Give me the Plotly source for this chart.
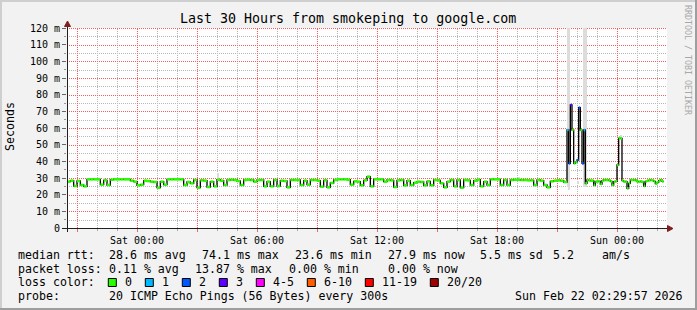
import plotly.graph_objects as go
import pandas as pd

W, H = 697, 310
FONT = "DejaVu Sans Mono"

# ---------------- data ----------------
start_a = "2026-02-20 20:30"          # 10-minute consolidated medians (ms)
median_a = [
    27.8, 28.4, 25.2, 28.2, 25.8, 25.0, 29.2, 29.2, 29.2, 29.2,
    26.0, 28.6, 25.8, 29.0, 29.2, 29.2, 29.2, 29.2, 29.2, 28.4,
    27.8, 25.6, 26.0, 28.4, 28.2, 27.8, 27.6, 24.2, 27.8, 26.0,
    29.2, 29.2, 29.2, 29.2, 29.2, 25.8,
    27.6, 26.8, 28.8, 24.2, 28.6, 28.4, 24.6, 27.8, 25.0, 29.0,
    28.4, 25.8, 28.8, 29.0, 28.8, 28.2, 25.8, 28.8, 29.0, 28.8,
    27.8, 28.8, 28.8, 25.0, 27.8, 25.0, 28.8, 25.2, 28.4, 28.2,
    24.4, 28.8, 28.8, 28.8, 25.8, 28.4,
    26.0, 28.8, 28.8, 28.4, 24.8, 28.6, 24.4, 27.0, 28.8, 29.2,
    29.2, 29.2, 29.0, 26.0, 28.0, 27.8, 25.6, 28.6, 30.8, 25.0,
    29.2, 29.2, 29.2, 27.8, 28.8, 28.6, 24.6, 28.6, 28.8, 25.6,
    28.4, 25.8, 27.2, 27.8, 27.6, 25.6,
    28.0, 25.6, 28.8, 28.6, 26.8, 24.4, 27.8, 28.8, 25.0, 28.8,
    24.2, 28.8, 28.6, 25.8, 28.4, 29.0, 25.0, 27.8, 25.8, 29.2,
    29.2, 29.2, 25.8, 28.8, 25.8, 28.8, 29.0, 29.0, 28.8, 28.8,
    28.6, 28.6, 25.8, 28.8, 28.4, 25.8,
    24.4, 28.0, 28.4, 28.6, 28.4, 27.6,
]
start_b = "2026-02-21 21:30"          # 5-minute medians (ms)
median_b = [
    58.8, 38.8, 73.8, 58.8, 38.8, 39.5, 40.8, 72.2, 58.8, 38.8, 58.8, 26.8,
    28.8, 28.6, 28.4, 28.4, 25.8, 27.8, 28.0, 28.0, 26.4, 28.4, 28.8, 28.8,
    28.8, 28.6, 28.0, 25.8, 27.8, 28.0,
    37.8, 53.8, 53.8,
    28.4, 27.8, 27.8, 23.8, 26.8, 28.8, 28.8, 28.8, 28.6, 27.8, 27.8, 28.0,
    27.6, 25.2, 28.0, 28.4, 28.6, 28.8, 28.6, 28.0, 26.6, 27.4, 28.4, 28.8,
    28.0,
]
loss_b = [1, 2, 3, 0, 0, 0, 2, 2, 0, 2, 1] + [0] * 47   # lost pings of 20

smoke_time = ["2026-02-20 22:20", "2026-02-21 04:00", "2026-02-21 19:05",
              "2026-02-21 21:30", "2026-02-21 21:35", "2026-02-21 22:00",
              "2026-02-21 22:20", "2026-02-21 22:25", "2026-02-22 00:10"]
smoke_low = [28.8, 28.8, 28.8, 24.8, 22.8, 26.5, 24.8, 24.8, 53.8]
smoke_high = [30.2, 32.8, 30.8, 120.0, 120.0, 28.0, 120.0, 120.0, 55.8]

x_range = ["2026-02-20 20:30", "2026-02-22 02:30"]
y_tickvals = [0, 10, 20, 30, 40, 50, 60, 70, 80, 90, 100, 110, 120]
y_ticktext = ["0", "10 m", "20 m", "30 m", "40 m", "50 m", "60 m", "70 m",
              "80 m", "90 m", "100 m", "110 m", "120 m"]
y_minorvals = [5, 15, 25, 35, 45, 55, 65, 75, 85, 95, 105, 115]
loss_labels = ["0", "1", "2", "3", "4-5", "6-10", "11-19", "20/20"]

title = "Last 30 Hours from smokeping to google.com"
legend_rows = [
    [("median rtt:", 16), ("28.6 ms avg", 107), ("74.1 ms max", 200),
     ("23.6 ms min", 293), ("27.9 ms now", 386), ("5.5 ms sd", 478),
     ("5.2", 551), ("am/s", 600)],
    [("packet loss:", 16), ("0.11 % avg", 107), ("13.87 % max", 193),
     ("0.00 % min", 286.5), ("0.00 % now", 386)],
    [("loss color:", 16)],
    [("probe:", 16), ("20 ICMP Echo Pings (56 Bytes) every 300s", 107),
     ("Sun Feb 22 02:29:57 2026", 513)],
]

# ---------------- styles ----------------
loss_colors = ["#26ff00", "#00b8ff", "#0059ff", "#5e00ff",
               "#ff00ff", "#ff5e00", "#ff0000", "#a10000"]

# plot-area pixel box
PL, PR, PT, PB = 67, 667, 28, 228


def loss_bin(n):
    if n <= 3:
        return n
    if n <= 5:
        return 4
    if n <= 10:
        return 5
    if n <= 19:
        return 6
    return 7


def px(x):
    return x / W


def py(y):
    return 1 - y / H


times_a = pd.date_range(start_a, periods=len(median_a), freq="10min")
times_b = pd.date_range(start_b, periods=len(median_b), freq="5min")
t_all = list(times_a) + list(times_b)
t_end = [t + pd.Timedelta("10min") for t in times_a] + [t + pd.Timedelta("5min") for t in times_b]
v_all = median_a + median_b
l_all = [0] * len(median_a) + loss_b

fig = go.Figure()

# smoke
fig.add_trace(go.Bar(
    x=pd.to_datetime(smoke_time),
    y=[h - l for h, l in zip(smoke_high, smoke_low)],
    base=smoke_low, offset=0, width=250000,
    marker=dict(color="#dcdcdc", line=dict(width=0)),
    hoverinfo="skip", showlegend=False,
))

# black median step line
fig.add_trace(go.Scatter(
    x=t_all + [t_end[-1]], y=v_all + [v_all[-1]],
    mode="lines", line=dict(color="#000000", width=1.3, shape="hv"),
    hoverinfo="skip", showlegend=False,
))

# coloured median segments per loss bucket
for b, col in enumerate(loss_colors):
    xs, ys = [], []
    for t0, t1, v, n in zip(t_all, t_end, v_all, l_all):
        if loss_bin(n) == b:
            xs += [t0, t1, None]
            ys += [v, v, None]
    if xs:
        fig.add_trace(go.Scatter(
            x=xs, y=ys, mode="lines", line=dict(color=col, width=2.6),
            hoverinfo="skip", showlegend=False,
        ))

tv = pd.date_range("2026-02-20 21:00", "2026-02-22 00:00", freq="3h")
x_tickvals = [t.strftime("%Y-%m-%d %H:%M") for t in tv]
x_ticktext = [t.strftime("%a %H:%M") if t.hour % 6 == 0 else "" for t in tv]
hv = pd.date_range("2026-02-20 21:00", "2026-02-22 02:00", freq="1h")
x_minorvals = [t.strftime("%Y-%m-%d %H:%M") for t in hv if t.hour % 3 != 0]

MAJ = "#ff5a5a"
MIN = "#b8b8b8"

fig.update_layout(
    width=W, height=H,
    margin=dict(l=0, r=0, t=0, b=0),
    paper_bgcolor="#f2f2f2", plot_bgcolor="#ffffff",
    showlegend=False, bargap=0,
    font=dict(family=FONT, color="#000000"),
    xaxis=dict(
        type="date", range=x_range, domain=[px(PL), px(PR)],
        tickmode="array", tickvals=x_tickvals, ticktext=x_ticktext,
        tickfont=dict(size=10, family=FONT),
        showgrid=False,
        ticks="outside", ticklen=3, tickcolor="rgba(225,70,70,0.8)",
        minor=dict(tickmode="array", tickvals=x_minorvals, showgrid=False,
                   ticks="outside", ticklen=2, tickcolor="#aaaaaa"),
        showline=False, zeroline=False, automargin=False, fixedrange=True,
    ),
    yaxis=dict(
        range=[0, 120], domain=[py(PB), py(PT)],
        tickmode="array", tickvals=y_tickvals, ticktext=y_ticktext,
        tickfont=dict(size=10, family=FONT),
        showgrid=False,
        ticks="outside", ticklen=4, tickcolor="#666666",
        minor=dict(tickmode="array", tickvals=y_minorvals, showgrid=False,
                   ticks="outside", ticklen=2, tickcolor="#999999"),
        showline=False, zeroline=False, automargin=False, fixedrange=True,
    ),
)

# grid-line pixel positions (snapped to pixel centres for crisp dotted lines)
x0_t = pd.Timestamp(x_range[0])
span_h = (pd.Timestamp(x_range[1]) - x0_t) / pd.Timedelta("1h")


def grid_x(t):
    h = (pd.Timestamp(t) - x0_t) / pd.Timedelta("1h")
    return px(round(PL + h / span_h * (PR - PL)) + 0.5)


def grid_y(v):
    return py(round(PB - v / 120 * (PB - PT)) + 0.5)


shapes = []
for t in x_minorvals:
    shapes.append(dict(type="line", xref="paper", yref="paper", x0=grid_x(t), x1=grid_x(t),
                       y0=py(PB), y1=py(PT), line=dict(color=MIN, width=1, dash="1px,1px"), layer="below"))
for v in y_minorvals:
    shapes.append(dict(type="line", xref="paper", yref="paper", x0=px(PL), x1=px(PR),
                       y0=grid_y(v), y1=grid_y(v), line=dict(color=MIN, width=1, dash="1px,1px"), layer="below"))
for t in x_tickvals:
    shapes.append(dict(type="line", xref="paper", yref="paper", x0=grid_x(t), x1=grid_x(t),
                       y0=py(PB), y1=py(PT), line=dict(color=MAJ, width=1, dash="1px,1px"), layer="below"))
for v in y_tickvals[1:]:
    shapes.append(dict(type="line", xref="paper", yref="paper", x0=px(PL), x1=px(PR),
                       y0=grid_y(v), y1=grid_y(v), line=dict(color=MAJ, width=1, dash="1px,1px"), layer="below"))

# 3D frame
shapes.append(dict(type="rect", xref="paper", yref="paper", x0=px(0), x1=px(697), y0=py(0), y1=py(2),
                   fillcolor="#cfcfcf", line=dict(width=0), layer="above"))
shapes.append(dict(type="rect", xref="paper", yref="paper", x0=px(0), x1=px(2), y0=py(0), y1=py(310),
                   fillcolor="#cfcfcf", line=dict(width=0), layer="above"))
shapes.append(dict(type="rect", xref="paper", yref="paper", x0=px(0), x1=px(697), y0=py(308), y1=py(310),
                   fillcolor="#9e9e9e", line=dict(width=0), layer="above"))
shapes.append(dict(type="rect", xref="paper", yref="paper", x0=px(695), x1=px(697), y0=py(0), y1=py(310),
                   fillcolor="#9e9e9e", line=dict(width=0), layer="above"))
# axis lines
shapes.append(dict(type="line", xref="paper", yref="paper", x0=px(62), x1=px(668), y0=py(228.5), y1=py(228.5),
                   line=dict(color="#1f1f1f", width=1), layer="above"))
shapes.append(dict(type="line", xref="paper", yref="paper", x0=px(67.5), x1=px(67.5), y0=py(232), y1=py(24),
                   line=dict(color="#1f1f1f", width=1), layer="above"))
# arrows
shapes.append(dict(type="path", xref="paper", yref="paper",
                   path=f"M {px(64.5)} {py(26.5)} L {px(70.5)} {py(26.5)} L {px(67.5)} {py(21)} Z",
                   fillcolor="#801f1f", line=dict(color="#801f1f", width=1), layer="above"))
shapes.append(dict(type="path", xref="paper", yref="paper",
                   path=f"M {px(667.5)} {py(225.5)} L {px(667.5)} {py(231.5)} L {px(673)} {py(228.5)} Z",
                   fillcolor="#801f1f", line=dict(color="#801f1f", width=1), layer="above"))

annotations = []


def txt(s, x, y, size, xanchor="left", angle=0, color="#000000"):
    annotations.append(dict(text=s, x=px(x), y=py(y), xref="paper", yref="paper",
                            xanchor=xanchor, yanchor="middle", showarrow=False,
                            textangle=angle, font=dict(family=FONT, size=size, color=color)))


txt(title, 348, 19, 13.3, xanchor="center")
txt("Seconds", 10, 127, 11.6, xanchor="center", angle=-90)
txt("RRDTOOL / TOBI OETIKER", 688, 60, 8.3, xanchor="center", angle=90, color="#a8a8a8")

row_y = [255, 268.5, 282.3, 295.8]
for row, yy in zip(legend_rows, row_y):
    for s, x in row:
        txt(s, x, yy, 11.6)

# loss colour legend boxes
bx = 108.3
for lab, col in zip(loss_labels, loss_colors):
    shapes.append(dict(type="rect", xref="paper", yref="paper",
                       x0=px(bx), x1=px(bx + 8), y0=py(286.5), y1=py(278.5),
                       fillcolor=col, line=dict(color="#000000", width=1), layer="above"))
    txt(lab, bx + 14.5, row_y[2], 11.6)
    bx += 30 + 7 * len(lab)

fig.update_layout(shapes=shapes, annotations=annotations)
fig.write_html("out.html")
